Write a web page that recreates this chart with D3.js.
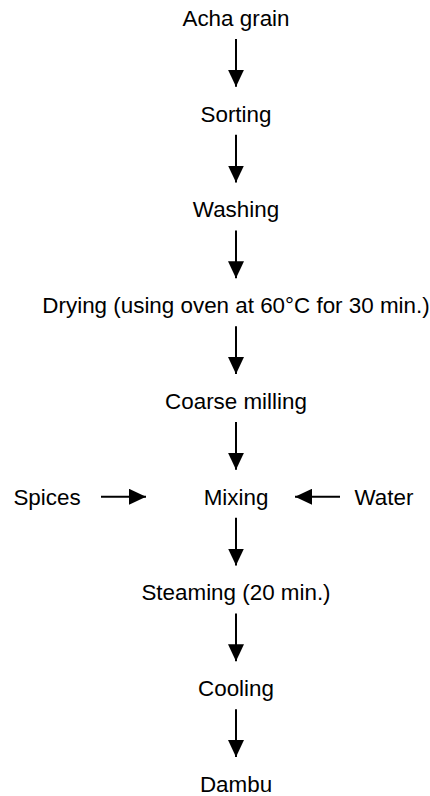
<!DOCTYPE html>
<html lang="en">
  <head>
    <meta charset="UTF-8">
    <title>Dambu flow</title>
    <style>
      html,body{
        background-color: #fff;
        margin: 0;
        padding: 0;
      }
      text{
        font-family: "Liberation Sans", Arial, sans-serif;
        font-size: 22.4px;
        fill: #000;
      }
    </style>
  </head>
  <body>
    <div id="chart"></div>
    <script src="https://cdn.jsdelivr.net/npm/d3@7/dist/d3.min.js"></script>
    <script>
      // pasos del proceso, de arriba a abajo
      var steps = ["Acha grain", "Sorting", "Washing", "Drying (using oven at 60°C for 30 min.)",
                   "Coarse milling", "Mixing", "Steaming (20 min.)", "Cooling", "Dambu"];
      // entradas laterales al paso "Mixing"
      var inputs = ["Spices", "Water"];
      var inputSide = ["left", "right"];
      var inputStep = "Mixing";

      var ancho = 430, alto = 796, cx = 236;

      var svg = d3.select("#chart").append("svg")
        .attr("width", ancho)
        .attr("height", alto);

      var defs = svg.append("defs");
      defs.append("marker")
        .attr("id", "head")
        .attr("viewBox", "0 0 17 16")
        .attr("refX", 17).attr("refY", 8)
        .attr("markerWidth", 17).attr("markerHeight", 16)
        .attr("markerUnits", "userSpaceOnUse")
        .attr("orient", "auto")
        .append("path")
        .attr("d", "M0,0L17,8L0,16Z")
        .attr("fill", "#000");

      var y = d3.scalePoint().domain(steps).range([18, 784]);

      // textos
      svg.selectAll("text.step").data(steps).enter().append("text")
        .attr("class", "step")
        .attr("x", cx)
        .attr("y", function(d){ return y(d); })
        .attr("dy", "0.35em")
        .attr("text-anchor", "middle")
        .text(function(d){ return d; });

      // flechas verticales entre pasos
      var pares = d3.pairs(steps);
      svg.selectAll("line.down").data(pares).enter().append("line")
        .attr("class", "down")
        .attr("x1", cx).attr("x2", cx)
        .attr("y1", function(d){ return y(d[0]) + 21; })
        .attr("y2", function(d){ return y(d[1]) - 27; })
        .attr("stroke", "#000")
        .attr("stroke-width", 2)
        .attr("marker-end", "url(#head)");

      // entradas laterales
      var ym = y(inputStep);
      var x = d3.scaleOrdinal().domain(inputSide).range([47, 384]);
      svg.selectAll("text.input").data(inputs).enter().append("text")
        .attr("class", "input")
        .attr("x", function(d, i){ return x(inputSide[i]); })
        .attr("y", ym)
        .attr("dy", "0.35em")
        .attr("text-anchor", "middle")
        .text(function(d){ return d; });

      var ax = d3.scaleOrdinal().domain(inputSide).range([[101, 146], [340, 295]]);
      svg.selectAll("line.side").data(inputSide).enter().append("line")
        .attr("class", "side")
        .attr("x1", function(d){ return ax(d)[0]; })
        .attr("x2", function(d){ return ax(d)[1]; })
        .attr("y1", ym).attr("y2", ym)
        .attr("stroke", "#000")
        .attr("stroke-width", 2)
        .attr("marker-end", "url(#head)");
    </script>
  </body>
</html>
